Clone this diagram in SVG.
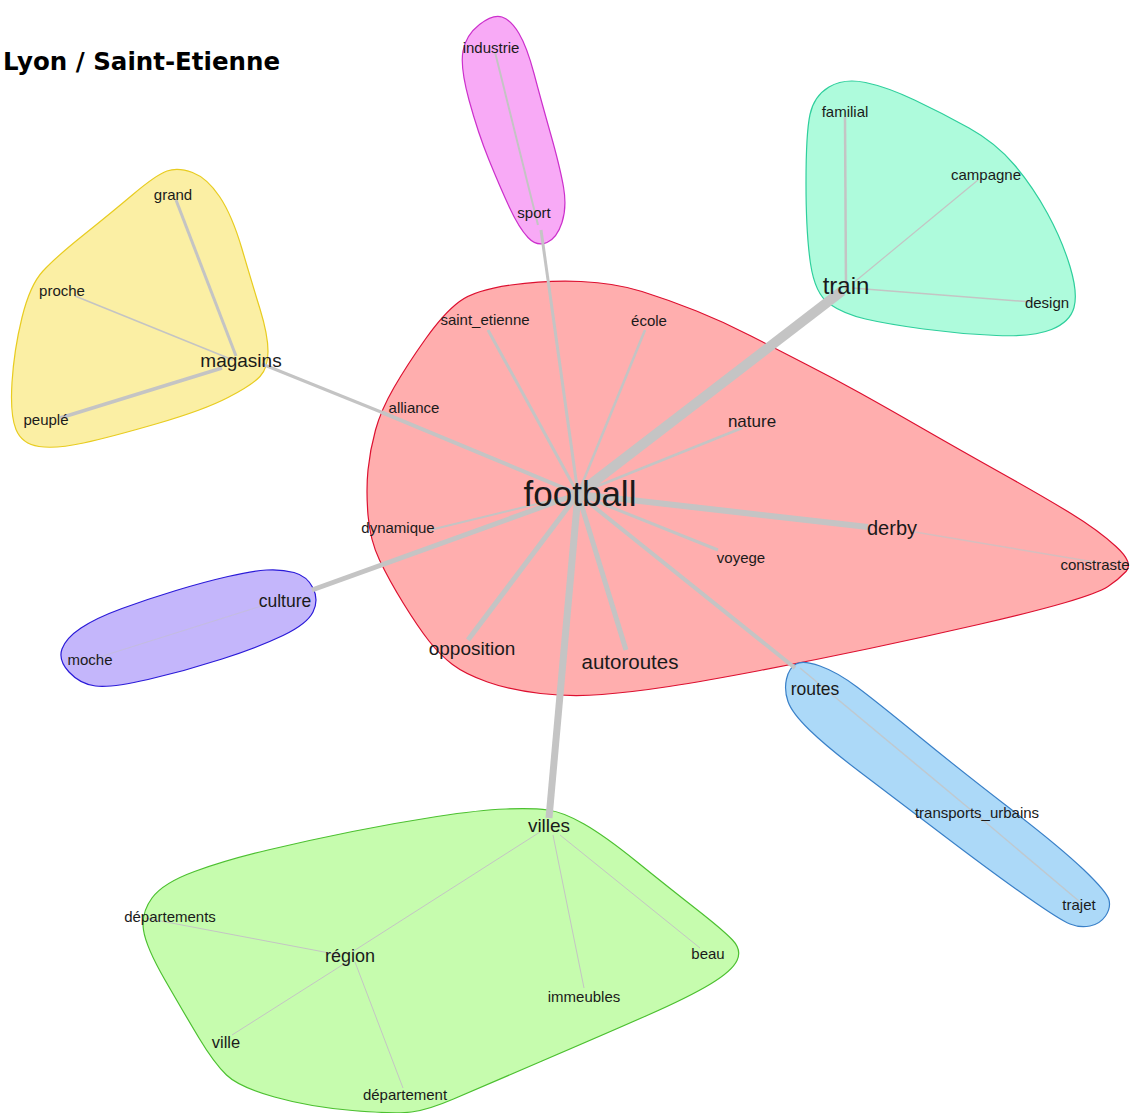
<svg xmlns="http://www.w3.org/2000/svg" width="1130" height="1113" viewBox="0 0 1130 1113">
<style>
.hull{stroke-width:1.2;}
.e{stroke:#c4c4c4;fill:none;stroke-linecap:butt;}
text{font-family:"Liberation Sans",Arial,sans-serif;fill:#1a1a1a;text-anchor:middle;}
.s{font-size:15px;}
.m{font-size:19px;}
.title{font-family:"DejaVu Sans",Verdana,sans-serif;font-weight:bold;font-size:24.5px;text-anchor:start;fill:#000;}
</style>
<rect width="1130" height="1113" fill="#ffffff"/>
<text class="title" x="3" y="70">Lyon / Saint-Etienne</text>
<g id="clusters">
<path id="hull-football" class="hull" fill="#ffaeae" stroke="#dd1030" d="M 581 281.5 Q 615 283 642 291.5 Q 669 300 696.5 311 Q 724 322 751 336 Q 778 350 805.5 364 Q 833 378 860 393 Q 887 408 923.5 429 Q 960 450 1002 473.5 Q 1044 497 1071 513.5 Q 1098 530 1116 546.5 Q 1134 563 1126 571.5 Q 1118 580 1108 586.5 Q 1098 593 1065.5 602.5 Q 1033 612 978.5 624.5 Q 924 637 869.5 648.5 Q 815 660 760 670.5 Q 705 681 669 686.5 Q 633 692 602 694.5 Q 571 697 540.5 693.5 Q 510 690 487.5 682 Q 465 674 452.5 664.5 Q 440 655 429 641 Q 418 627 403.5 603.5 Q 389 580 379.5 560 Q 370 540 368 515 Q 366 490 368 470 Q 370 450 375.5 430 Q 381 410 394 387.5 Q 407 365 425.5 339 Q 444 313 459.5 301.5 Q 475 290 511 285 Q 547 280 581 281.5 Z"/>
<path id="hull-magasins" class="hull" fill="#fbefa4" stroke="#e8cc20" d="M 192.5 172.5 Q 207 178 219.5 196.5 Q 232 215 242 249 Q 252 283 260 309 Q 268 335 268 351.5 Q 268 368 260 376.5 Q 252 385 228 397.5 Q 204 410 157.5 423.5 Q 111 437 83.5 443 Q 56 449 39 446.5 Q 22 444 16 429.5 Q 10 415 12 382.5 Q 14 350 22 317.5 Q 30 285 43 271 Q 56 257 83.5 235 Q 111 213 133.5 194 Q 156 175 167 171 Q 178 167 192.5 172.5 Z"/>
<path id="hull-sport" class="hull" fill="#f8aaf6" stroke="#cc30cc" d="M 502 17 Q 511 20 519 33.5 Q 527 47 534 73.5 Q 541 100 550.5 133.5 Q 560 167 563.5 187 Q 567 207 562 222.5 Q 557 238 547 242.5 Q 537 247 528 237.5 Q 519 228 509.5 207.5 Q 500 187 489 160 Q 478 133 469 100 Q 460 67 463 51 Q 466 35 479.5 24.5 Q 493 14 502 17 Z"/>
<path id="hull-train" class="hull" fill="#aefbdc" stroke="#2ecf9c" d="M 865.5 82.5 Q 887 87 914.5 100 Q 942 113 969 128 Q 996 143 1014.5 165 Q 1033 187 1047.5 213.5 Q 1062 240 1070 266.5 Q 1078 293 1074 307.5 Q 1070 322 1051.5 329.5 Q 1033 337 996.5 335.5 Q 960 334 923.5 329 Q 887 324 865.5 319 Q 844 314 829.5 304 Q 815 294 810.5 263.5 Q 806 233 806 183 Q 806 133 810 114.5 Q 814 96 829 87 Q 844 78 865.5 82.5 Z"/>
<path id="hull-culture" class="hull" fill="#c4b6fb" stroke="#2a1ad8" d="M 294 572.5 Q 307 576 313 588 Q 319 600 313 612 Q 307 624 283 635.5 Q 259 647 222 659 Q 185 671 148 679.5 Q 111 688 95.5 686 Q 80 684 69 672 Q 58 660 62 649 Q 66 638 81 628 Q 96 618 122 608.5 Q 148 599 176 590.5 Q 204 582 228 576.5 Q 252 571 266.5 570 Q 281 569 294 572.5 Z"/>
<path id="hull-routes" class="hull" fill="#acd9f8" stroke="#3a80c8" d="M 820 666 Q 837 672 857 687 Q 877 702 918.5 736 Q 960 770 1010 808.5 Q 1060 847 1083.5 869.5 Q 1107 892 1109 900 Q 1111 908 1105.5 916 Q 1100 924 1090 926 Q 1080 928 1070 924 Q 1060 920 1026.5 896.5 Q 993 873 943 835 Q 893 797 860 772 Q 827 747 809.5 730 Q 792 713 788 701.5 Q 784 690 786.5 679 Q 789 668 796 664 Q 803 660 820 666 Z"/>
<path id="hull-villes" class="hull" fill="#c6fcae" stroke="#4cc030" d="M 548 810 Q 563 812 584 824 Q 605 836 636.5 861.5 Q 668 887 695.5 908.5 Q 723 930 732.5 940 Q 742 950 737 960.5 Q 732 971 710.5 984 Q 689 997 647 1015.5 Q 605 1034 542 1061 Q 479 1088 453.5 1099 Q 428 1110 411.5 1112 Q 395 1114 352.5 1110.5 Q 310 1107 274.5 1097 Q 239 1087 226.5 1075 Q 214 1063 199 1038 Q 184 1013 165 980 Q 146 947 143.5 930 Q 141 913 152 898 Q 163 883 194.5 871.5 Q 226 860 268 850 Q 310 840 352.5 831.5 Q 395 823 437 816.5 Q 479 810 506 809 Q 533 808 548 810 Z"/>
</g>
<g id="connectors">
<line class="e" x1="578" y1="494" x2="842" y2="291" stroke-width="10"/>
<line class="e" x1="578" y1="494" x2="549" y2="818" stroke-width="7"/>
<line class="e" x1="578" y1="494" x2="868" y2="527" stroke-width="6"/>
<line class="e" x1="578" y1="494" x2="468" y2="640" stroke-width="5"/>
<line class="e" x1="578" y1="494" x2="626" y2="650" stroke-width="5"/>
<line class="e" x1="578" y1="494" x2="312" y2="590" stroke-width="5"/>
<line class="e" x1="578" y1="494" x2="381" y2="412" stroke-width="4"/>
<line class="e" x1="578" y1="494" x2="795" y2="668" stroke-width="4"/>
<line class="e" x1="578" y1="494" x2="541" y2="230" stroke-width="3"/>
<line class="e" x1="578" y1="494" x2="488" y2="330" stroke-width="3"/>
<line class="e" x1="578" y1="494" x2="645" y2="330" stroke-width="2.5"/>
<line class="e" x1="578" y1="494" x2="742" y2="428" stroke-width="2.5"/>
<line class="e" x1="578" y1="494" x2="718" y2="550" stroke-width="3"/>
<line class="e" x1="578" y1="494" x2="430" y2="530" stroke-width="2"/>
<line class="e" x1="262" y1="364" x2="381" y2="412" stroke-width="3"/>
<line class="e" x1="176" y1="200" x2="236" y2="356" stroke-width="3"/>
<line class="e" x1="75" y1="296" x2="233" y2="360" stroke-width="1.5"/>
<line class="e" x1="60" y1="418" x2="222" y2="368" stroke-width="3.5"/>
<line class="e" x1="538" y1="225" x2="495" y2="52" stroke-width="2"/>
<line class="e" x1="845" y1="117" x2="846" y2="290" stroke-width="2.5"/>
<line class="e" x1="978" y1="180" x2="852" y2="284" stroke-width="1.2"/>
<line class="e" x1="852" y1="288" x2="1032" y2="302" stroke-width="1.5"/>
<line class="e" x1="90" y1="660" x2="290" y2="597" stroke-width="1" opacity="0.5"/>
<line class="e" x1="915" y1="532" x2="1100" y2="563" stroke-width="1.5" opacity="0.7"/>
<polyline class="e" points="800,668 977,815 1080,902" stroke-width="1.5" opacity="0.8"/>
<line class="e" x1="540" y1="832" x2="352" y2="952" stroke-width="1"/>
<line class="e" x1="553" y1="835" x2="584" y2="988" stroke-width="1"/>
<line class="e" x1="560" y1="835" x2="700" y2="948" stroke-width="1"/>
<line class="e" x1="145" y1="918" x2="340" y2="955" stroke-width="1"/>
<line class="e" x1="232" y1="1035" x2="347" y2="962" stroke-width="1"/>
<line class="e" x1="355" y1="962" x2="403" y2="1088" stroke-width="1"/>
</g>
<g id="n-football"><text x="580" y="506" style="font-size:35px">football</text></g>
<g id="n-industrie"><text class="s" x="491" y="53">industrie</text></g>
<g id="n-sport"><text class="s" x="534" y="218">sport</text></g>
<g id="n-grand"><text class="s" x="173" y="200">grand</text></g>
<g id="n-proche"><text class="s" x="62" y="296">proche</text></g>
<g id="n-magasins"><text class="m" x="241" y="367">magasins</text></g>
<g id="n-peuple"><text class="s" x="46" y="425">peuplé</text></g>
<g id="n-saint_etienne"><text class="s" x="485" y="325">saint_etienne</text></g>
<g id="n-ecole"><text class="s" x="649" y="326">école</text></g>
<g id="n-alliance"><text class="s" x="414" y="413">alliance</text></g>
<g id="n-nature"><text x="752" y="427" style="font-size:17px">nature</text></g>
<g id="n-dynamique"><text class="s" x="398" y="533">dynamique</text></g>
<g id="n-voyege"><text class="s" x="741" y="563">voyege</text></g>
<g id="n-opposition"><text class="m" x="472" y="655">opposition</text></g>
<g id="n-autoroutes"><text x="630" y="669" style="font-size:20.5px">autoroutes</text></g>
<g id="n-derby"><text x="892" y="535" style="font-size:20px">derby</text></g>
<g id="n-constraste"><text class="s" x="1095" y="570">constraste</text></g>
<g id="n-routes"><text x="815" y="695" style="font-size:17.5px">routes</text></g>
<g id="n-transports_urbains"><text class="s" x="977" y="818">transports_urbains</text></g>
<g id="n-trajet"><text class="s" x="1079" y="910">trajet</text></g>
<g id="n-culture"><text x="285" y="607" style="font-size:17.5px">culture</text></g>
<g id="n-moche"><text class="s" x="90" y="665">moche</text></g>
<g id="n-familial"><text class="s" x="845" y="117">familial</text></g>
<g id="n-campagne"><text class="s" x="986" y="180">campagne</text></g>
<g id="n-train"><text x="846" y="294" style="font-size:24px">train</text></g>
<g id="n-design"><text class="s" x="1047" y="308">design</text></g>
<g id="n-villes"><text class="m" x="549" y="832">villes</text></g>
<g id="n-departements"><text class="s" x="170" y="922">départements</text></g>
<g id="n-region"><text x="350" y="962" style="font-size:18px">région</text></g>
<g id="n-beau"><text class="s" x="708" y="959">beau</text></g>
<g id="n-immeubles"><text class="s" x="584" y="1002">immeubles</text></g>
<g id="n-ville"><text x="226" y="1048" style="font-size:16.5px">ville</text></g>
<g id="n-departement"><text class="s" x="405" y="1100">département</text></g>
</svg>
